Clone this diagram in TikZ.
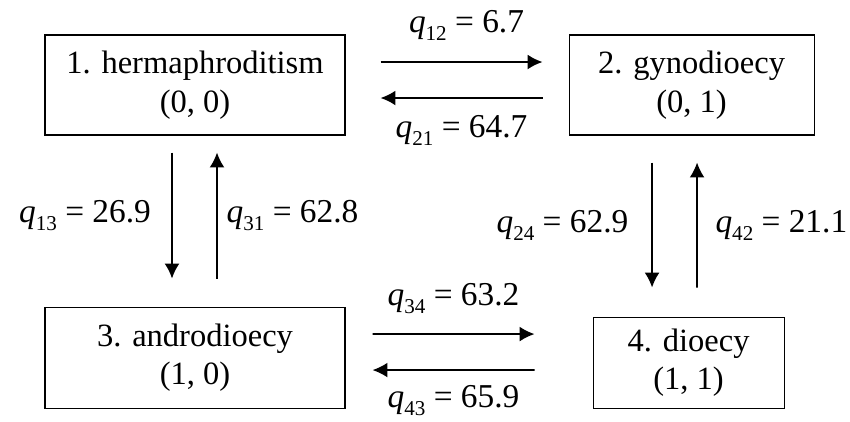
\documentclass[tikz,border=0pt]{standalone}
\usepackage{fontspec}
\setmainfont{Liberation Serif}
\usetikzlibrary{positioning,arrows.meta}

\newcommand{\qrate}[2]{\textit{q}\raisebox{-4.6pt}{\fontsize{12}{12}\selectfont#1} = #2}

\begin{document}
\begin{tikzpicture}[every node/.style={font=\fontsize{18.5}{22}\selectfont},
    state/.style={draw,line width=0.6pt,align=center},
    rate/.style={inner sep=0pt,font=\fontsize{19}{22}\selectfont},
    trans/.style={-{Latex[length=8.5pt,width=8.5pt]},line width=1pt}]
    \useasboundingbox (0,0) rectangle (17,-8.42);
    \node[state,minimum width=6cm,minimum height=2cm] (herm) at (3.9,-1.7) {1. hermaphroditism\\(0, 0)};
    \node[state,right=4.46cm of herm,minimum width=4.9cm,minimum height=2cm] (gyno) {2. gynodioecy\\(0, 1)};
    \node[state,below=3.42cm of herm,minimum width=6cm,minimum height=2.02cm] (andro) {3. androdioecy\\(1, 0)};
    \node[state,below=3.62cm of gyno,xshift=-0.06cm,minimum width=3.82cm,minimum height=1.82cm] (dio) {4. dioecy\\(1, 1)};
    % horizontal pairs
    \draw[trans] ([xshift=0.7cm,yshift=0.46cm]herm.east) -- ([xshift=-0.52cm,yshift=0.46cm]gyno.west)
      node[rate,midway,above=11.5pt,xshift=0.1cm] {\qrate{12}{6.7}};
    \draw[trans] ([xshift=-0.52cm,yshift=-0.26cm]gyno.west) -- ([xshift=0.7cm,yshift=-0.26cm]herm.east)
      node[rate,midway,below=9.5pt] {\qrate{21}{64.7}};
    \draw[trans] ([xshift=0.54cm,yshift=0.47cm]andro.east) -- ([xshift=-1.16cm,yshift=0.57cm]dio.west)
      node[rate,midway,above=11pt] {\qrate{34}{63.2}};
    \draw[trans] ([xshift=-1.16cm,yshift=-0.15cm]dio.west) -- ([xshift=0.54cm,yshift=-0.25cm]andro.east)
      node[rate,midway,below=8pt] {\qrate{43}{65.9}};
    % vertical pairs
    \draw[trans] ([xshift=-0.46cm,yshift=-0.34cm]herm.south) -- ([xshift=-0.46cm,yshift=0.56cm]andro.north)
      node[rate,midway,left=11.5pt] {\qrate{13}{26.9}};
    \draw[trans] ([xshift=0.44cm,yshift=0.56cm]andro.north) -- ([xshift=0.44cm,yshift=-0.34cm]herm.south)
      node[rate,midway,right=5pt] {\qrate{31}{62.8}};
    \draw[trans] ([xshift=-0.79cm,yshift=-0.54cm]gyno.south) -- ([xshift=-0.73cm,yshift=0.58cm]dio.north)
      node[rate,midway,left=13pt] {\qrate{24}{62.9}};
    \draw[trans] ([xshift=0.17cm,yshift=0.58cm]dio.north) -- ([xshift=0.11cm,yshift=-0.54cm]gyno.south)
      node[rate,midway,right=10pt] {\qrate{42}{21.1}};
  \end{tikzpicture}
\end{document}
